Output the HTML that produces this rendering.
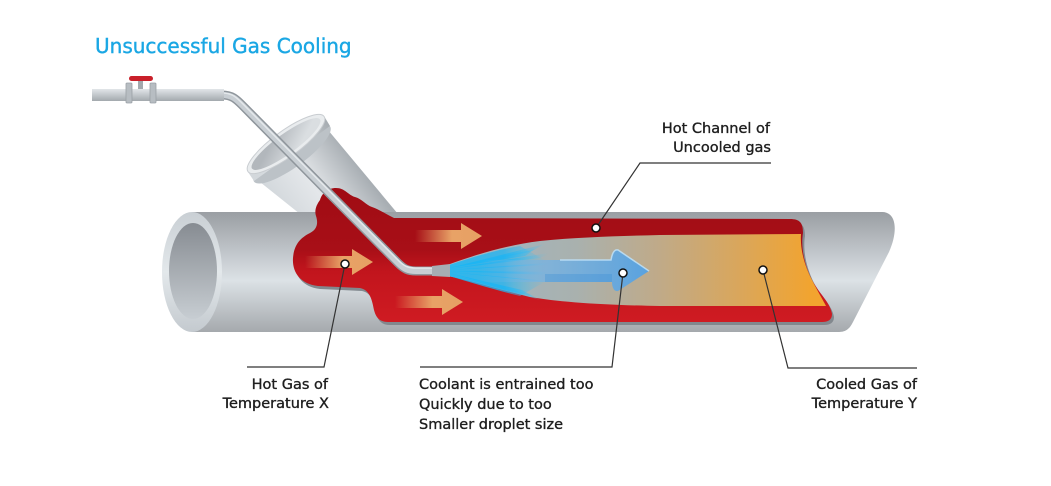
<!DOCTYPE html>
<html><head><meta charset="utf-8"><style>
html,body{margin:0;padding:0;background:#fff;}
svg{display:block;}
text{font-family:"DejaVu Sans","Liberation Sans",sans-serif;}
</style></head><body>
<svg width="1051" height="486" viewBox="0 0 1051 486" xmlns="http://www.w3.org/2000/svg">
<defs>
<linearGradient id="pipeG" x1="0" y1="212" x2="0" y2="332" gradientUnits="userSpaceOnUse">
<stop offset="0" stop-color="#9a9ea3"/><stop offset="0.57" stop-color="#dce2e6"/><stop offset="1" stop-color="#a5a9ad"/>
</linearGradient>
<linearGradient id="rimG" x1="0" y1="212" x2="0" y2="332" gradientUnits="userSpaceOnUse">
<stop offset="0" stop-color="#c9cfd4"/><stop offset="0.5" stop-color="#e3e8eb"/><stop offset="1" stop-color="#c4cacf"/>
</linearGradient>
<linearGradient id="holeG" x1="0" y1="222" x2="0" y2="320" gradientUnits="userSpaceOnUse">
<stop offset="0" stop-color="#868b91"/><stop offset="1" stop-color="#c8ced3"/>
</linearGradient>
<linearGradient id="redG" x1="0" y1="190" x2="0" y2="322" gradientUnits="userSpaceOnUse">
<stop offset="0" stop-color="#a00c14"/><stop offset="0.45" stop-color="#a80f17"/><stop offset="0.62" stop-color="#c2151d"/><stop offset="1" stop-color="#cf1b22"/>
</linearGradient>
<linearGradient id="plumeG" x1="450" y1="0" x2="812" y2="0" gradientUnits="userSpaceOnUse">
<stop offset="0" stop-color="#9fb6c6"/><stop offset="0.35" stop-color="#a9b1ae"/><stop offset="0.58" stop-color="#c0aa88"/><stop offset="0.82" stop-color="#dca657"/><stop offset="1" stop-color="#f2a42f"/>
</linearGradient>
<linearGradient id="sprayG" x1="449" y1="0" x2="548" y2="0" gradientUnits="userSpaceOnUse">
<stop offset="0" stop-color="#1ab6f4"/><stop offset="0.55" stop-color="#22b4f0" stop-opacity="0.9"/><stop offset="1" stop-color="#4cc0f0" stop-opacity="0"/>
</linearGradient>
<linearGradient id="arrowB" x1="480" y1="0" x2="650" y2="0" gradientUnits="userSpaceOnUse">
<stop offset="0" stop-color="#7ab6e6" stop-opacity="0"/><stop offset="0.4" stop-color="#74b2e4" stop-opacity="0.75"/><stop offset="1" stop-color="#58a2e0"/>
</linearGradient>
<linearGradient id="oa1" x1="305" y1="0" x2="373" y2="0" gradientUnits="userSpaceOnUse">
<stop offset="0" stop-color="#e8a266" stop-opacity="0"/><stop offset="0.55" stop-color="#e8a266"/><stop offset="1" stop-color="#e6a064"/>
</linearGradient>
<linearGradient id="oa2" x1="415" y1="0" x2="482" y2="0" gradientUnits="userSpaceOnUse">
<stop offset="0" stop-color="#e8a266" stop-opacity="0"/><stop offset="0.55" stop-color="#e8a266"/><stop offset="1" stop-color="#e6a064"/>
</linearGradient>
<linearGradient id="oa3" x1="395" y1="0" x2="463" y2="0" gradientUnits="userSpaceOnUse">
<stop offset="0" stop-color="#e8a266" stop-opacity="0"/><stop offset="0.55" stop-color="#e8a266"/><stop offset="1" stop-color="#e6a064"/>
</linearGradient>
<linearGradient id="coneG" x1="262" y1="182" x2="332" y2="130" gradientUnits="userSpaceOnUse">
<stop offset="0" stop-color="#d3d8dc"/><stop offset="0.45" stop-color="#e4e7ea"/><stop offset="1" stop-color="#a8aeb3"/>
</linearGradient>
<linearGradient id="openG" x1="280" y1="132" x2="292" y2="156" gradientUnits="userSpaceOnUse">
<stop offset="0" stop-color="#b2b7bc"/><stop offset="1" stop-color="#dadee1"/>
</linearGradient>
<linearGradient id="hpipe" x1="0" y1="89" x2="0" y2="101" gradientUnits="userSpaceOnUse">
<stop offset="0" stop-color="#e2e6e9"/><stop offset="1" stop-color="#a3a9ae"/>
</linearGradient>
</defs>

<!-- Title -->
<text x="95" y="53" font-size="20" fill="#1aa7e4" stroke="#1aa7e4" stroke-width="0.4">Unsuccessful Gas Cooling</text>

<!-- Cone tube body -->
<polygon points="260,182 328,130 398,214 300,214" fill="url(#coneG)"/>
<!-- collar -->
<ellipse cx="292" cy="154" rx="47" ry="13" transform="rotate(-36 292 154)" fill="#bcc2c7"/>
<polygon points="248,172 324,116 330,126 254,181" fill="url(#coneG)"/>
<ellipse cx="286" cy="144" rx="47" ry="13" transform="rotate(-36 286 144)" fill="#e9ecee" stroke="#c9cdd1" stroke-width="1"/>
<ellipse cx="286" cy="144" rx="42" ry="10" transform="rotate(-36 286 144)" fill="url(#openG)"/>

<!-- Main pipe -->
<path d="M192,212 L882,212 C897,212 898,232 889,252 L853,322 C849,330 845,332 838,332 L192,332 Z" fill="url(#pipeG)"/>
<ellipse cx="192" cy="272" rx="30" ry="60" fill="url(#rimG)"/>
<ellipse cx="193" cy="271" rx="24" ry="48" fill="url(#holeG)"/>

<!-- Red region shadow edge -->
<path transform="translate(2,3)" d="M320,200 C322,193 328,188 336,188 C345,188 348,195 355,197 C362,199 366,205 372,207 C380,210 386,214 394,218 L790,219 C800,219 803,223 803,233 C801,245 803,262 812,280 C820,295 830,302 832,314 C832,320 828,322 822,322 L388,322 C380,322 376,318 374,310 C372,300 370,290 360,288 L318,286 C300,284 292,272 293,258 C294,245 300,238 310,233 C318,229 318,222 316,216 C314,210 317,204 320,200 Z" fill="#82888e"/>
<!-- Red region -->
<path d="M320,200 C322,193 328,188 336,188 C345,188 348,195 355,197 C362,199 366,205 372,207 C380,210 386,214 394,218 L790,219 C800,219 803,223 803,233 C801,245 803,262 812,280 C820,295 830,302 832,314 C832,320 828,322 822,322 L388,322 C380,322 376,318 374,310 C372,300 370,290 360,288 L318,286 C300,284 292,272 293,258 C294,245 300,238 310,233 C318,229 318,222 316,216 C314,210 317,204 320,200 Z" fill="url(#redG)"/>

<!-- Plume -->
<path d="M447,265 C470,257 500,246 540,241 C580,237 620,236 660,235 L801,234 C800,248 804,265 812,280 C818,292 823,300 826,306 L660,306 C600,305 560,302 530,297 C500,290 470,280 447,276 Z" fill="url(#plumeG)"/>

<!-- Spray -->
<g fill="url(#sprayG)">
<path d="M449,265 C470,258 495,250 520,246 L548,262 L548,280 L520,296 C495,290 470,282 449,276 Z" opacity="0.85"/>
<path d="M449,268 L545,244 L530,252 Z"/>
<path d="M449,269 L555,252 L540,258 Z"/>
<path d="M449,270 L560,262 L545,265 Z"/>
<path d="M449,271 L565,272 L548,275 Z"/>
<path d="M449,272 L560,282 L545,282 Z"/>
<path d="M449,273 L555,292 L538,289 Z"/>
<path d="M449,274 L540,300 L528,294 Z"/>
<path d="M449,268 L535,249 L525,256 Z"/>
<path d="M449,273 L535,297 L522,290 Z"/>
</g>

<!-- Blue arrow -->
<path d="M480,260 L611,260 C612,254 614,249 618,250 L649,271 L618,291 C614,292 612,287 612,282 L480,282 Z" fill="url(#arrowB)"/>
<path d="M560,260 L611,260 C612,254 614,249 618,250 L649,271" fill="none" stroke="#c0e2f8" stroke-width="1.5" opacity="0.85"/>
<path d="M545,274 L612,274 L612,282 L545,282 Z" fill="#3d8fd6" opacity="0.35"/>

<!-- Orange arrows -->
<path d="M305,256 L352,256 L352,249 L373,262 L352,275 L352,268 L305,268 Z" fill="url(#oa1)"/>
<path d="M415,230 L461,230 L461,223 L482,236 L461,249 L461,242 L415,242 Z" fill="url(#oa2)"/>
<path d="M395,296 L442,296 L442,289 L463,302 L442,315 L442,308 L395,308 Z" fill="url(#oa3)"/>

<!-- Thin pipe -->
<path d="M92,95 L222,95 C232,95 236,99 242,105 L398,263 C404,269 408,271 416,271 L436,271" fill="none" stroke="#8f969c" stroke-width="9"/>
<path d="M92,95 L222,95 C232,95 236,99 242,105 L398,263 C404,269 408,271 416,271 L436,271" fill="none" stroke="#c8ced3" stroke-width="6"/>
<path d="M92,93 L222,93 C231,93 235,96 241,102 L399,261 C404,266 408,268 416,268 L436,268" fill="none" stroke="#e4e8eb" stroke-width="1.5"/>
<!-- horizontal pipe overlay -->
<rect x="92" y="89" width="132" height="12" fill="url(#hpipe)"/>
<!-- nozzle -->
<polygon points="432,266 450,264 450,277 432,276" fill="#a6adb3"/>
<!-- valve -->
<rect x="138" y="79" width="5" height="10" fill="#a3a9ae"/>
<rect x="129" y="76" width="24" height="5" rx="2.5" fill="#c9202a"/>
<rect x="126" y="83" width="6" height="20" rx="1" fill="#b7bdc2" stroke="#9aa0a6" stroke-width="0.8"/>
<rect x="150" y="83" width="6" height="20" rx="1" fill="#b7bdc2" stroke="#9aa0a6" stroke-width="0.8"/>

<!-- Leaders -->
<g fill="none" stroke="#333" stroke-width="1.2">
<polyline points="771,163 640,163 596,228"/>
<polyline points="247,367 324,367 345,264"/>
<polyline points="420,367 612,367 623,273"/>
<polyline points="917,368 788,368 763,270"/>
</g>
<g fill="#fff" stroke="#111" stroke-width="1.5">
<circle cx="596" cy="228" r="4"/>
<circle cx="345" cy="264" r="4"/>
<circle cx="623" cy="273" r="4"/>
<circle cx="763" cy="270" r="4"/>
</g>

<!-- Labels -->
<g font-size="14.5" fill="#1e1e1e" stroke="#1e1e1e" stroke-width="0.35">
<text x="770" y="133" text-anchor="end">Hot Channel of</text>
<text x="771" y="152" text-anchor="end">Uncooled gas</text>
<text x="328" y="389" text-anchor="end">Hot Gas of</text>
<text x="329" y="408" text-anchor="end">Temperature X</text>
<text x="419" y="389">Coolant is entrained too</text>
<text x="419" y="409">Quickly due to too</text>
<text x="419" y="429">Smaller droplet size</text>
<text x="917" y="389" text-anchor="end">Cooled Gas of</text>
<text x="917" y="408" text-anchor="end">Temperature Y</text>
</g>
</svg>
</body></html>
